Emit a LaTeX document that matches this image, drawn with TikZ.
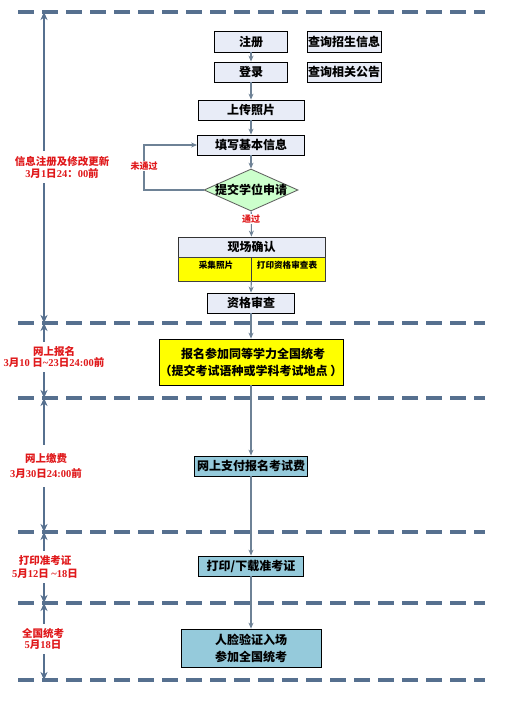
\documentclass[tikz,border=0pt]{standalone}
\usepackage{fontspec}
\setmainfont{Liberation Serif}
\newfontfamily\cjk{Noto Sans CJK SC}
\usetikzlibrary{arrows.meta,shapes.geometric}
\definecolor{dashc}{HTML}{56708F}
\definecolor{linec}{HTML}{6E8296}
\definecolor{lavc}{HTML}{E8ECF7}
\definecolor{greenc}{HTML}{CCFFCC}
\definecolor{yelc}{HTML}{FFFF00}
\definecolor{bluec}{HTML}{95CADB}
\definecolor{redc}{HTML}{E0191B}
\newcommand\bxfont{\cjk\bfseries\fontsize{12}{17}\selectfont}
\newcommand\smfont{\cjk\bfseries\fontsize{8.6}{10}\selectfont}
\newcommand\dgt[1]{{\rmfamily\bfseries #1}}
\tikzset{
  box/.style={draw=black, line width=0.8pt, inner sep=0pt, align=center, font=\bxfont},
  lavbox/.style={box, fill=lavc},
  yelbox/.style={box, fill=yelc},
  bluebox/.style={box, fill=bluec},
  cellbox/.style={draw=black!75, line width=0.6pt, fill=yelc, inner sep=0pt},
  decision/.style={shape=diamond, draw=black!65, line width=0.8pt, fill=greenc, inner sep=0pt, minimum width=94pt, minimum height=42pt},
  flow/.style={draw=linec, line width=1.1pt, -{Stealth[length=6pt,width=5pt]}},
  dashline/.style={draw=dashc, line width=3.4pt, dash pattern=on 16pt off 8pt},
  tline/.style={draw=dashc, line width=1.4pt, {Stealth[length=8pt,width=7pt,inset=2.5pt]}-{Stealth[length=8pt,width=7pt,inset=2.5pt]}},
  redlab/.style={text=redc, fill=white, inner sep=1pt, align=center},
  cellText/.style={font=\smfont, inner sep=0pt}
}
\begin{document}
\begin{tikzpicture}[x=1pt,y=-1pt]
\useasboundingbox[fill=white] (0,0) rectangle (518,701);

% dashed separators
\foreach \yy/\nm in {12/d0,323/d1,398/d2,532/d3,603/d4,680/d5}{
  \coordinate (\nm L) at (18,\yy);
  \coordinate (\nm R) at (485,\yy);
}
\foreach \nm in {d0,d1,d2,d3,d4,d5}{
  \draw[dashline] (\nm L) -- (\nm R);
}

% timeline
\coordinate (t0) at (44,12);
\coordinate (t1) at (44,323);
\coordinate (t2) at (44,398);
\coordinate (t3) at (44,532);
\coordinate (t4) at (44,603);
\coordinate (t5) at (44,680);
\draw[tline] (t0) -- (t1);
\draw[tline] (t1) -- (t2);
\draw[tline] (t2) -- (t3);
\draw[tline] (t3) -- (t4);
\draw[tline] (t4) -- (t5);

\node[redlab, font=\cjk\bfseries\fontsize{10.5}{12}\selectfont, inner ysep=5pt] (lab1) at (62,167)
  {信息注册及修改更新\\\dgt{3}月\dgt{1}日\dgt{24}：\dgt{00}前};
\node[redlab, font=\cjk\bfseries\fontsize{10.5}{9.5}\selectfont, inner ysep=4pt] (lab2) at (54,357)
  {网上报名\hspace{18pt}\\\dgt{3}月\dgt{10} 日\dgt{\char`~23}日\dgt{24:00}前};
\node[redlab, font=\cjk\bfseries\fontsize{10.5}{15}\selectfont, inner ysep=8pt] (lab3) at (46,466)
  {网上缴费\\\dgt{3}月\dgt{30}日\dgt{24:00}前};
\node[redlab, font=\cjk\bfseries\fontsize{10.5}{13}\selectfont, inner ysep=5pt] (lab4) at (45,567)
  {打印准考证\\\dgt{5}月\dgt{12}日 \dgt{\char`~18}日};
\node[redlab, font=\cjk\bfseries\fontsize{10.5}{8.5}\selectfont, inner ysep=5pt] (lab5) at (43,639)
  {全国统考\\\dgt{5}月\dgt{18}日\hspace{4pt}};

% main flow
\node[lavbox, minimum width=73pt, minimum height=21pt] (reg) at (251,41.5) {注册};
\node[lavbox, minimum width=74pt, minimum height=21pt] (q1) at (344,41.5) {查询招生信息};
\node[lavbox, minimum width=73pt, minimum height=20pt] (login) at (251,72) {登录};
\node[lavbox, minimum width=74pt, minimum height=20pt] (q2) at (344,72) {查询相关公告};
\node[lavbox, minimum width=106pt, minimum height=20pt] (upload) at (251,110) {上传照片};
\node[lavbox, minimum width=107pt, minimum height=20pt] (fillin) at (251,145) {填写基本信息};
\node[decision] (dec) at (251,190) {};
\node[font=\bxfont, inner sep=0pt] (dect) at (dec.center) {提交学位申请};

\node[lavbox, draw=black!80, minimum width=147pt, minimum height=20pt] (confirm) at (251.5,247) {现场确认};
\node[cellbox, minimum width=73pt, minimum height=24pt] (cellL) at (214.5,269) {};
\node[cellbox, minimum width=74pt, minimum height=24pt] (cellR) at (288,269) {};
\node[cellText] (cellLt) at (216,265) {采集照片};
\node[cellText] (cellRt) at (287,265) {打印资格审查表};

\node[lavbox, minimum width=87pt, minimum height=20pt] (check) at (251,303) {资格审查};
\node[yelbox, minimum width=184pt, minimum height=46pt] (sign) at (251,362)
  {\hspace{4pt}报名参加同等学力全国统考\\（提交考试语种或学科考试地点 ）};
\node[bluebox, minimum width=113pt, minimum height=20pt] (pay) at (251,466) {网上支付报名考试费};
\node[bluebox, minimum width=105pt, minimum height=20pt] (print) at (251,566) {打印/下载准考证};
\node[bluebox, minimum width=140pt, minimum height=38pt] (exam) at (251,648) {人脸验证入场\\参加全国统考};

% connectors
\draw[flow] (reg) -- (login);
\draw[flow] (login) -- (upload);
\draw[flow] (upload) -- (fillin);
\draw[flow] (fillin) -- (dec);
\draw[flow] (dec) -- (confirm);
\coordinate (lp) at (144,190);
\draw[flow] (dec.west) -- (lp) |- (fillin.west);
\draw[flow] (cellL.south east) -- (check.north);
\draw[flow] (check) -- (sign);
\draw[flow] (sign) -- (pay);
\draw[flow] (pay) -- (print);
\draw[flow] (print) -- (exam);

\node[redlab, font=\cjk\bfseries\fontsize{9}{10}\selectfont] (fail) at (144,166) {未通过};
\node[redlab, font=\cjk\bfseries\fontsize{9}{10}\selectfont] (pass) at (251,219) {通过};
\end{tikzpicture}
\end{document}
